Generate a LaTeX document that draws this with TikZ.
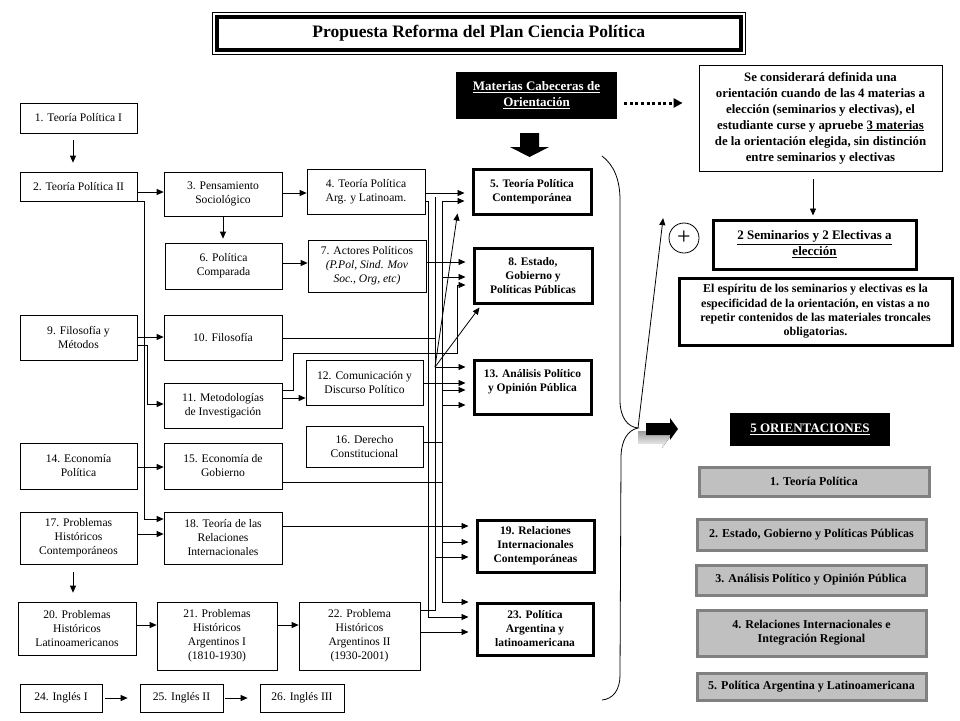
\documentclass[tikz,border=0pt]{standalone}
\usepackage{fontspec}
\setmainfont{Liberation Serif}
\usetikzlibrary{arrows.meta,calc}
\definecolor{gfill}{HTML}{C0C0C0}
\definecolor{gline}{HTML}{808080}
\definecolor{shade}{HTML}{A8A8A8}
\newcommand\mybox[8][]{\node[#2,minimum width={#6pt-#4pt},minimum height={#7pt-#5pt},#1] (#3) at ({(#4+#6)/2},{(#5+#7)/2}) {#8};}
\begin{document}
\begin{tikzpicture}[x=1pt,y=-1pt,
  box/.style={draw, line width=0.7pt, align=center, inner sep=1pt, font=\fontsize{11.6}{14}\selectfont},
  tbox/.style={draw, line width=3pt, align=center, inner sep=1pt, font=\bfseries\fontsize{11.5}{14}\selectfont},
  trbox/.style={draw, line width=0.8pt, align=center, inner sep=1pt, font=\bfseries\fontsize{12.8}{16}\selectfont},
  blk/.style={fill=black, text=white, align=center, inner sep=1pt, font=\bfseries\fontsize{13}{16}\selectfont},
  gbox/.style={draw=gline, fill=gfill, line width=3pt, align=center, inner sep=1pt, font=\bfseries\fontsize{12}{14}\selectfont},
  ln/.style={line width=0.8pt},
  arr/.style={line width=0.8pt, -{Triangle[length=7pt,width=6pt]}}
]
\useasboundingbox (0,0) rectangle (960,720);

% title
\draw[line width=0.8pt] (212,12.5) rectangle (745.5,54);
\mybox[line width=4pt, font=\bfseries\fontsize{17.5}{19}\selectfont]{box}{title}{216.5}{17}{741}{50}{Propuesta Reforma del Plan Ciencia Política}

% column A
\mybox{box}{a1}{20}{103}{137}{133}{1. Teoría Política I}
\mybox{box}{a2}{20}{172}{137}{201}{2. Teoría Política II}
\mybox{box}{a9}{20}{315}{137}{360}{9. Filosofía y\\Métodos}
\mybox{box}{a14}{20}{443}{137}{489}{14. Economía\\Política}
\mybox{box}{a17}{20}{512}{137}{564}{17. Problemas\\Históricos\\Contemporáneos}
\mybox{box}{a20}{18}{602}{136}{655}{20. Problemas\\Históricos\\Latinoamericanos}
\mybox{box}{a24}{20}{684}{102}{712}{24. Inglés I}
\mybox{box}{a25}{140}{684}{223}{712}{25. Inglés II}
\mybox{box}{a26}{260}{684}{344}{712}{26. Inglés III}

% column B
\mybox{box}{b3}{164}{172}{282}{216}{3. Pensamiento\\Sociológico}
\mybox{box}{b6}{165}{243}{282}{289}{6. Política\\Comparada}
\mybox{box}{b10}{164}{315}{282}{360}{10. Filosofía}
\mybox{box}{b11}{164}{383}{282}{428}{11. Metodologías\\de Investigación}
\mybox{box}{b15}{164}{443}{282}{489}{15. Economía de\\Gobierno}
\mybox{box}{b18}{164}{512}{282}{564}{18. Teoría de las\\Relaciones\\Internacionales}
\mybox{box}{b21}{157}{602}{277}{670}{21. Problemas\\Históricos\\Argentinos I\\(1810-1930)}

% column C
\mybox{box}{c4}{307}{169}{425}{214}{4. Teoría Política\\Arg. y Latinoam.}
\mybox{box}{c7}{308}{240}{426}{292}{7. Actores Políticos\\\textit{(P.Pol, Sind. Mov}\\\textit{Soc., Org, etc)}}
\mybox{box}{c12}{306}{360}{423}{405}{12. Comunicación y\\Discurso Político}
\mybox{box}{c16}{306}{426}{423}{467}{16. Derecho\\Constitucional}
\mybox{box}{c22}{299}{602}{420}{670}{22. Problema\\Históricos\\Argentinos II\\(1930-2001)}

% column D
\mybox{tbox}{d5}{473}{169}{591}{214}{5. Teoría Política\\Contemporánea}
\mybox{tbox}{d8}{474}{248}{592}{303}{8. Estado,\\Gobierno y\\Políticas Públicas}
\mybox{tbox}{d13}{474}{360}{591}{414}{13. Análisis Político\\y Opinión Pública\\\mbox{}}
\mybox{tbox}{d19}{477}{520}{594}{572}{19. Relaciones\\Internacionales\\Contemporáneas}
\mybox{tbox}{d23}{477}{603}{593}{655}{23. Política\\Argentina y\\latinoamericana}

% header boxes
\mybox{blk}{mat}{456}{72}{617}{119}{\underline{Materias Cabeceras de}\\\underline{Orientación}}
\mybox{trbox}{tr}{699}{65}{942}{171}{Se considerará definida una\\orientación cuando de las 4 materias a\\elección (seminarios y electivas), el\\estudiante curse y apruebe \underline{3 materias}\\de la orientación elegida, sin distinción\\entre seminarios y electivas}
\mybox[font=\bfseries\fontsize{13}{16}\selectfont]{tbox}{sem}{713}{220}{916}{269}{\underline{2 Seminarios y 2 Electivas a}\\\underline{elección}}
\mybox[font=\bfseries\fontsize{12}{14.3}\selectfont]{tbox}{esp}{679}{278}{952}{345}{El espíritu de los seminarios y electivas es la\\especificidad de la orientación, en vistas a no\\repetir contenidos de las materiales troncales\\obligatorias.}
\node[draw, circle, line width=0.8pt, minimum size=30pt, inner sep=0pt, font=\fontsize{24}{24}\selectfont] (plus) at (684,238) {+};

% orientaciones
\mybox{blk}{ori}{730}{413}{890}{446}{\underline{5 ORIENTACIONES}}
\mybox{gbox}{g1}{699}{467}{929}{496}{1. Teoría Política}
\mybox{gbox}{g2}{697}{519}{926}{550}{2. Estado, Gobierno y Políticas Públicas}
\mybox{gbox}{g3}{696}{565}{926}{595}{3. Análisis Político y Opinión Pública}
\mybox{gbox}{g4}{697}{610}{926}{656}{4. Relaciones Internacionales e\\Integración Regional}
\mybox{gbox}{g5}{697}{673}{926}{700}{5. Política  Argentina y Latinoamericana}

% block arrows
\fill (520,133) -- (539,133) -- (539,147) -- (549,147) -- (529.5,157) -- (510,147) -- (520,147) -- cycle;
\fill[shade] (638,431) -- (662,431) -- (662,426) -- (670,437) -- (662,448) -- (662,443) -- (638,443) -- cycle;
\fill (646,423) -- (670,423) -- (670,418) -- (678,429) -- (670,440) -- (670,435) -- (646,435) -- cycle;

% brace
\coordinate (btip) at (638,428);
\draw[ln] (602,156) .. controls (614,165) and (620,180) .. (620,200) -- (620,400)
  .. controls (620,418) and (628,427) .. (btip)
  .. controls (628,430) and (621,440) .. (621,458) -- (620,675)
  .. controls (620,690) and (613,699) .. (602,700);
\draw[arr] (btip) -- ($(plus.north west)+(-10,-9)$);

% dotted arrow and right-hand arrow
\draw[line width=3pt, dash pattern=on 3pt off 2.6pt, -{Triangle[length=9pt,width=9pt]}, shorten <=7pt, shorten >=16pt] (mat.east |- 0,103) -- (tr.west |- 0,103);
\draw[arr, shorten <=8pt, shorten >=3pt] (tr.south -| 813,0) -- (sem.north -| 813,0);

% left connectors
\draw[arr, shorten <=7pt, shorten >=9pt] (a1.south -| 73,0) -- (a2.north -| 73,0);
\draw[arr, shorten <=8pt, shorten >=9pt] (a17.south -| 73,0) -- (a20.north -| 73,0);
\draw[arr] (a2.east |- 0,192) -- (b3.west |- 0,192);
\draw[arr] (b3.east |- 0,193) -- (c4.west |- 0,193);
\draw[arr, shorten >=4pt] (b3.south -| 223,0) -- (b6.north -| 223,0);
\draw[arr] (b6.east |- 0,263) -- (c7.west |- 0,263);
\draw[arr] (a9.east |- 0,337) -- (b10.west |- 0,337);
\draw[arr] (a9.east |- 0,345) -- (147,345) -- (147,404) -- (b11.west |- 0,404);
\draw[arr] (a2.east |- 0,201) -- (144,201) -- (144,519) -- (b18.west |- 0,519);
\draw[arr] (a14.east |- 0,467) -- (b15.west |- 0,467);
\draw[arr] (a17.east |- 0,534) -- (b18.west |- 0,534);
\draw[arr] (a20.east |- 0,625) -- (b21.west |- 0,625);
\draw[arr] (b21.east |- 0,625) -- (c22.west |- 0,625);
\draw[arr, shorten <=3pt, shorten >=12pt] (a24.east |- 0,698) -- (a25.west |- 0,698);
\draw[arr, shorten <=2pt, shorten >=12pt] (a25.east |- 0,698) -- (a26.west |- 0,698);
\draw[arr] (b11.east |- 0,398) -- (c12.west |- 0,398);

% right bus
\coordinate (v1t) at (428,201);
\coordinate (v2t) at (435,197);
\coordinate (v3t) at (442,201);
\coordinate (j) at (435,367);
\draw[arr, shorten >=7pt] (c4.east |- 0,193) -- (d5.west |- 0,193);
\draw[arr, shorten >=7pt] (c4.east |- 0,201) -- (v1t) -- (428,617) -- (d23.west |- 0,617);
\draw[ln] (v2t) -- (435,610) -- (c22.east |- 0,610);
\draw[arr, shorten >=7pt] (v3t) -- (d5.west |- 0,201);
\draw[arr, shorten >=7pt] (v3t) -- (442,602) -- (d23.west |- 0,602);
\draw[arr, shorten >=7pt] (c7.east |- 0,262) -- (d8.west |- 0,262);
\draw[arr, shorten >=7pt] (442,277) -- (d8.west |- 0,277);
\draw[arr, shorten >=7pt] (b11.east |- 0,390) -- (293,390) -- (293,353) -- (457,353) -- (457,285) -- (d8.west |- 0,285);
\draw[ln] (b10.east |- 0,338) -- (435,338);
\draw[arr] (j) -- ($(d5.south west)+(-14,-2)$);
\draw[arr] (j) -- ($(d8.south west)+(7,3)$);
\draw[arr, shorten >=7pt] (j) -- (d13.west |- 0,367);
\draw[arr, shorten >=7pt] (c12.east |- 0,383) -- (d13.west |- 0,383);
\draw[arr, shorten >=7pt] (442,390) -- (d13.west |- 0,390);
\draw[arr, shorten >=7pt] (442,405) -- (d13.west |- 0,405);
\draw[ln] (c16.east |- 0,442) -- (442,442);
\draw[ln] (b15.east |- 0,482) -- (442,482);
\draw[arr, shorten >=7pt] (b18.east |- 0,526) -- (d19.west |- 0,526);
\draw[arr, shorten >=7pt] (442,542) -- (d19.west |- 0,542);
\draw[arr, shorten >=7pt] (435,557) -- (d19.west |- 0,557);
\draw[arr, shorten >=7pt] (c22.east |- 0,632) -- (d23.west |- 0,632);
\end{tikzpicture}
\end{document}
